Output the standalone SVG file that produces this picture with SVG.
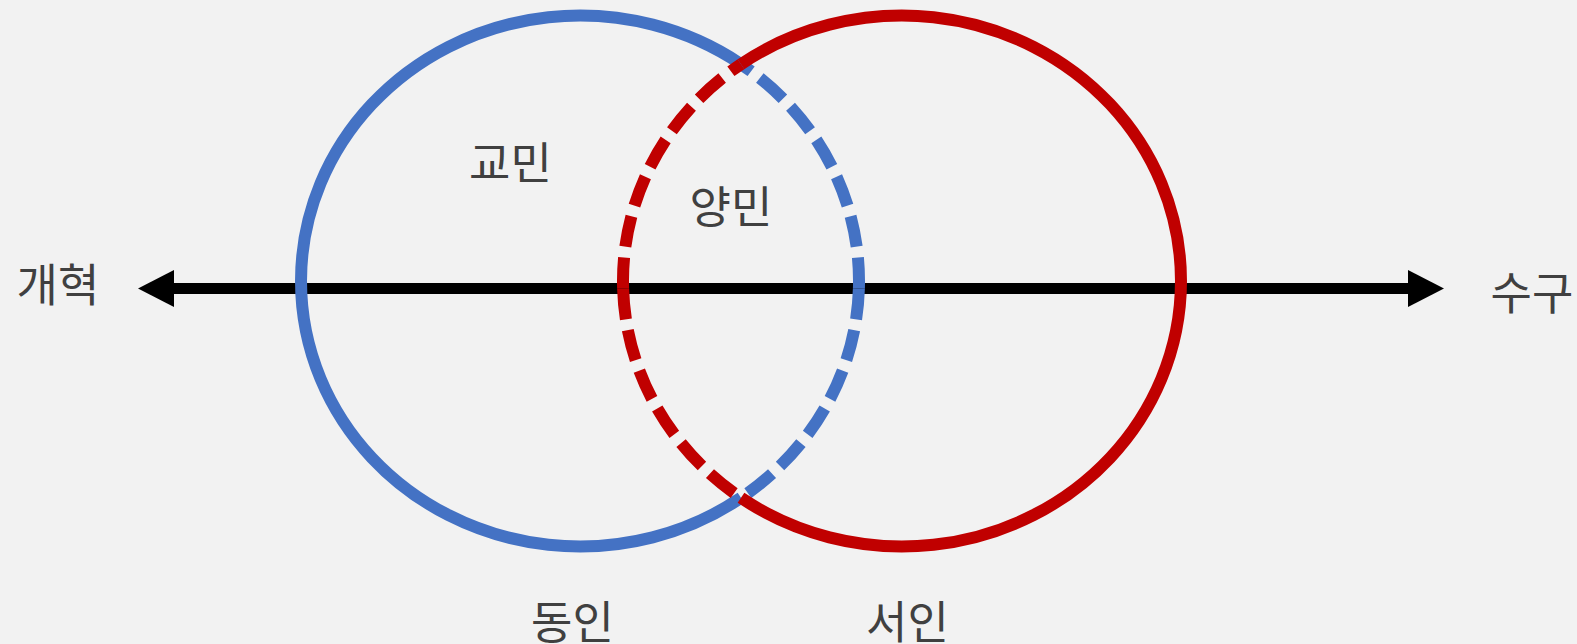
<svg xmlns="http://www.w3.org/2000/svg" width="1577" height="644" viewBox="0 0 1577 644">
  <style>
    .lbl { font-family: "Noto Sans CJK KR", "Noto Sans", sans-serif; font-size: 45px; fill: #404040; text-anchor: middle; }
    .blue { fill: none; stroke: #4472C4; stroke-width: 12; }
    .red { fill: none; stroke: #C00000; stroke-width: 12; }
    .dash { stroke-dasharray: 31 11; }
  </style>
  <rect x="0" y="0" width="1577" height="644" fill="#F2F2F2"/>
  <g id="connectors">
    <line x1="172" y1="288.5" x2="1410" y2="288.5" stroke="#000" stroke-width="11"/>
    <polygon points="138,288.5 174,270 174,307" fill="#000"/>
    <polygon points="1444,288.5 1408,270 1408,307" fill="#000"/>
  </g>
  <g id="dongin-circle">
    <path class="blue" d="M 741 497.84 A 279 265.5 0 1 1 741 64.16"/>
    <path class="blue dash" d="M 858.9 288.5 A 279 265.5 0 0 0 741 64.16"/>
    <path class="blue dash" d="M 858.9 288.5 A 279 265.5 0 0 1 741 497.84"/>
  </g>
  <g id="seoin-circle">
    <path class="red" d="M 741 64.16 A 279 265.5 0 1 1 741 497.84"/>
    <path class="red dash" d="M 623.1 288.5 A 279 265.5 0 0 1 741 64.16"/>
    <path class="red dash" d="M 623.1 288.5 A 279 265.5 0 0 0 741 497.84"/>
  </g>
  <g id="gaehyeok"><text class="lbl" x="58" y="302">개혁</text></g>
  <g id="sugu"><text class="lbl" x="1532" y="310">수구</text></g>
  <g id="gyomin"><text class="lbl" x="510.5" y="180">교민</text></g>
  <g id="yangmin"><text class="lbl" x="731" y="224">양민</text></g>
  <g id="dongin"><text class="lbl" x="572.5" y="639">동인</text></g>
  <g id="seoin"><text class="lbl" x="907.5" y="639">서인</text></g>
</svg>
